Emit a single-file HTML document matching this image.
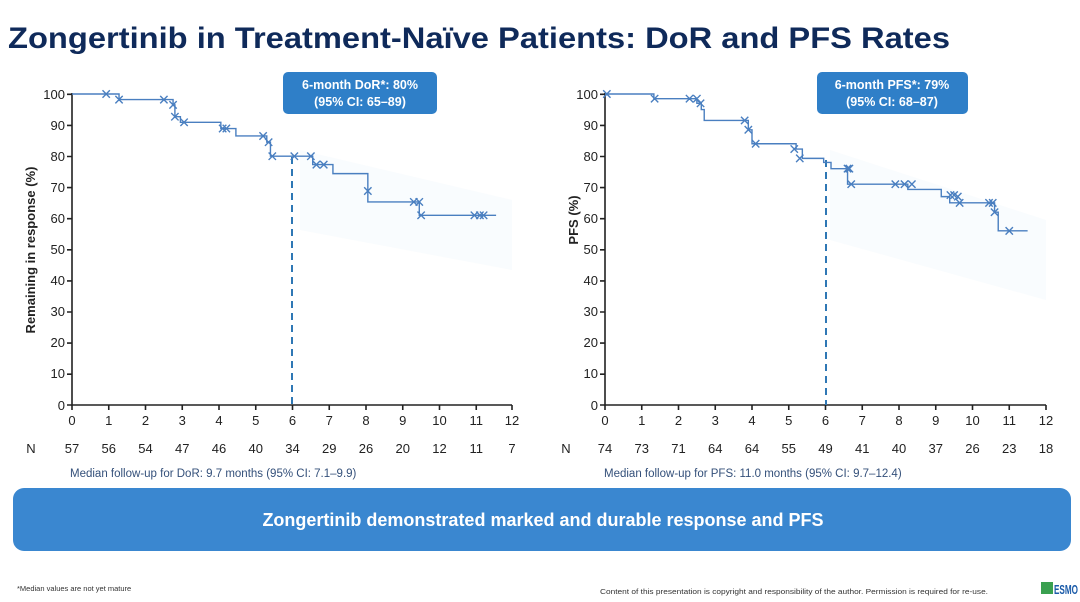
<!DOCTYPE html>
<html><head><meta charset="utf-8"><style>html,body{margin:0;padding:0;background:#fff}svg{display:block}</style></head><body>
<svg width="1080" height="602" viewBox="0 0 1080 602" xmlns="http://www.w3.org/2000/svg" font-family="Liberation Sans, Arial, sans-serif">
<rect width="1080" height="602" fill="#fff"/>
<text x="8" y="48" font-size="30" font-weight="bold" fill="#0f2a5a" textLength="942" lengthAdjust="spacingAndGlyphs">Zongertinib in Treatment-Naïve Patients: DoR and PFS Rates</text>

<!-- faint CI shading -->
<path d="M300 150 L512 200 L512 270 L300 230 Z" fill="#f3f9fd" opacity="0.5"/>
<path d="M830 150 L1046 220 L1046 300 L830 240 Z" fill="#f3f9fd" opacity="0.5"/>

<!-- LEFT CHART -->
<g stroke="#222" stroke-width="1.6" fill="none">
<path d="M72 93 V405 H512"/>
<path d="M67 94.3H72M67 125.4H72M67 156.5H72M67 187.6H72M67 218.7H72M67 249.8H72M67 280.9H72M67 312H72M67 343.1H72M67 374.2H72M67 405H72"/>
<path d="M72 405v5M108.75 405v5M145.5 405v5M182.25 405v5M219 405v5M255.75 405v5M292.5 405v5M329.25 405v5M366 405v5M402.75 405v5M439.5 405v5M476.25 405v5M512 405v5"/>
</g>
<g font-size="13" fill="#222" text-anchor="end">
<text x="65" y="99">100</text><text x="65" y="130">90</text><text x="65" y="161">80</text><text x="65" y="192">70</text><text x="65" y="223">60</text><text x="65" y="254">50</text><text x="65" y="285">40</text><text x="65" y="316">30</text><text x="65" y="347">20</text><text x="65" y="378">10</text><text x="65" y="410">0</text>
</g>
<g font-size="13" fill="#222" text-anchor="middle">
<text x="72" y="425">0</text><text x="108.75" y="425">1</text><text x="145.5" y="425">2</text><text x="182.25" y="425">3</text><text x="219" y="425">4</text><text x="255.75" y="425">5</text><text x="292.5" y="425">6</text><text x="329.25" y="425">7</text><text x="366" y="425">8</text><text x="402.75" y="425">9</text><text x="439.5" y="425">10</text><text x="476.25" y="425">11</text><text x="512" y="425">12</text>
<text x="31" y="453">N</text>
<text x="72" y="453">57</text><text x="108.75" y="453">56</text><text x="145.5" y="453">54</text><text x="182.25" y="453">47</text><text x="219" y="453">46</text><text x="255.75" y="453">40</text><text x="292.5" y="453">34</text><text x="329.25" y="453">29</text><text x="366" y="453">26</text><text x="402.75" y="453">20</text><text x="439.5" y="453">12</text><text x="476.25" y="453">11</text><text x="512" y="453">7</text>
</g>
<text transform="translate(35 250) rotate(-90)" font-size="13" font-weight="bold" fill="#222" text-anchor="middle">Remaining in response (%)</text>
<text x="70" y="477" font-size="11.5" fill="#34507a">Median follow-up for DoR: 9.7 months (95% CI: 7.1–9.9)</text>
<line x1="292" y1="157" x2="292" y2="405" stroke="#2f78b5" stroke-width="2" stroke-dasharray="7,5"/>
<g transform="translate(72 405) scale(36.75 -3.11)" fill="none" stroke="#4a7fc0" stroke-width="1.4">
<path vector-effect="non-scaling-stroke" d="M0 100 H1.28 V98.2 H2.75 V96.5 H2.8 V92.7 H2.95 V90.9 H4.05 V88.9 H4.46 V86.5 H5.3 V84.5 H5.4 V80 H6.55 V77.3 H7.1 V74.4 H8.05 V65.3 H9.45 V61 H11.54"/>
<path vector-effect="non-scaling-stroke" d="M0.93 100m-.1-1.2l.2 2.4m0-2.4l-.2 2.4 M1.28 98.2m-.1-1.2l.2 2.4m0-2.4l-.2 2.4 M2.5 98.2m-.1-1.2l.2 2.4m0-2.4l-.2 2.4 M2.75 96.5m-.1-1.2l.2 2.4m0-2.4l-.2 2.4 M2.8 92.7m-.1-1.2l.2 2.4m0-2.4l-.2 2.4 M3.05 90.9m-.1-1.2l.2 2.4m0-2.4l-.2 2.4 M4.1 88.9m-.1-1.2l.2 2.4m0-2.4l-.2 2.4 M4.2 88.9m-.1-1.2l.2 2.4m0-2.4l-.2 2.4 M5.2 86.5m-.1-1.2l.2 2.4m0-2.4l-.2 2.4 M5.35 84.5m-.1-1.2l.2 2.4m0-2.4l-.2 2.4 M5.45 80m-.1-1.2l.2 2.4m0-2.4l-.2 2.4 M6.05 80m-.1-1.2l.2 2.4m0-2.4l-.2 2.4 M6.5 80m-.1-1.2l.2 2.4m0-2.4l-.2 2.4 M6.65 77.3m-.1-1.2l.2 2.4m0-2.4l-.2 2.4 M6.85 77.3m-.1-1.2l.2 2.4m0-2.4l-.2 2.4 M8.05 68.8m-.1-1.2l.2 2.4m0-2.4l-.2 2.4 M9.3 65.3m-.1-1.2l.2 2.4m0-2.4l-.2 2.4 M9.45 65.3m-.1-1.2l.2 2.4m0-2.4l-.2 2.4 M9.5 61m-.1-1.2l.2 2.4m0-2.4l-.2 2.4 M10.95 61m-.1-1.2l.2 2.4m0-2.4l-.2 2.4 M11.1 61m-.1-1.2l.2 2.4m0-2.4l-.2 2.4 M11.2 61m-.1-1.2l.2 2.4m0-2.4l-.2 2.4"/>
</g>
<rect x="283" y="72" width="154" height="42" rx="5" fill="#2f7fc8"/>
<text x="360" y="89" font-size="12.5" font-weight="bold" fill="#fff" text-anchor="middle">6-month DoR*: 80%</text>
<text x="360" y="106" font-size="12.5" font-weight="bold" fill="#fff" text-anchor="middle">(95% CI: 65–89)</text>

<!-- RIGHT CHART -->
<g stroke="#222" stroke-width="1.6" fill="none">
<path d="M605 93 V405 H1046"/>
<path d="M600 94.3H605M600 125.4H605M600 156.5H605M600 187.6H605M600 218.7H605M600 249.8H605M600 280.9H605M600 312H605M600 343.1H605M600 374.2H605M600 405H605"/>
<path d="M605 405v5M641.75 405v5M678.5 405v5M715.25 405v5M752 405v5M788.75 405v5M825.5 405v5M862.25 405v5M899 405v5M935.75 405v5M972.5 405v5M1009.25 405v5M1046 405v5"/>
</g>
<g font-size="13" fill="#222" text-anchor="end">
<text x="598" y="99">100</text><text x="598" y="130">90</text><text x="598" y="161">80</text><text x="598" y="192">70</text><text x="598" y="223">60</text><text x="598" y="254">50</text><text x="598" y="285">40</text><text x="598" y="316">30</text><text x="598" y="347">20</text><text x="598" y="378">10</text><text x="598" y="410">0</text>
</g>
<g font-size="13" fill="#222" text-anchor="middle">
<text x="605" y="425">0</text><text x="641.75" y="425">1</text><text x="678.5" y="425">2</text><text x="715.25" y="425">3</text><text x="752" y="425">4</text><text x="788.75" y="425">5</text><text x="825.5" y="425">6</text><text x="862.25" y="425">7</text><text x="899" y="425">8</text><text x="935.75" y="425">9</text><text x="972.5" y="425">10</text><text x="1009.25" y="425">11</text><text x="1046" y="425">12</text>
<text x="566" y="453">N</text>
<text x="605" y="453">74</text><text x="641.75" y="453">73</text><text x="678.5" y="453">71</text><text x="715.25" y="453">64</text><text x="752" y="453">64</text><text x="788.75" y="453">55</text><text x="825.5" y="453">49</text><text x="862.25" y="453">41</text><text x="899" y="453">40</text><text x="935.75" y="453">37</text><text x="972.5" y="453">26</text><text x="1009.25" y="453">23</text><text x="1046" y="453">18</text>
</g>
<text transform="translate(578 220) rotate(-90)" font-size="13" font-weight="bold" fill="#222" text-anchor="middle">PFS (%)</text>
<text x="604" y="477" font-size="11.5" fill="#34507a">Median follow-up for PFS: 11.0 months (95% CI: 9.7–12.4)</text>
<line x1="826" y1="160" x2="826" y2="405" stroke="#2f78b5" stroke-width="2" stroke-dasharray="7,5"/>
<g transform="translate(605 405) scale(36.75 -3.11)" fill="none" stroke="#4a7fc0" stroke-width="1.4">
<path vector-effect="non-scaling-stroke" d="M0 100 H1.33 V98.5 H2.5 V97 H2.62 V95 H2.7 V91.5 H3.9 V88.5 H4.0 V84 H5.2 V82.3 H5.37 V79.3 H5.95 V78 H6.15 V76 H6.6 V71 H8.24 V69.3 H9.15 V67 H9.38 V65 H10.6 V62 H10.7 V56 H11.5"/>
<path vector-effect="non-scaling-stroke" d="M0.05 100m-.1-1.2l.2 2.4m0-2.4l-.2 2.4 M1.35 98.5m-.1-1.2l.2 2.4m0-2.4l-.2 2.4 M2.3 98.5m-.1-1.2l.2 2.4m0-2.4l-.2 2.4 M2.5 98.5m-.1-1.2l.2 2.4m0-2.4l-.2 2.4 M2.6 97m-.1-1.2l.2 2.4m0-2.4l-.2 2.4 M3.8 91.5m-.1-1.2l.2 2.4m0-2.4l-.2 2.4 M3.9 88.5m-.1-1.2l.2 2.4m0-2.4l-.2 2.4 M4.1 84m-.1-1.2l.2 2.4m0-2.4l-.2 2.4 M5.15 82.3m-.1-1.2l.2 2.4m0-2.4l-.2 2.4 M5.3 79.3m-.1-1.2l.2 2.4m0-2.4l-.2 2.4 M6.6 76m-.1-1.2l.2 2.4m0-2.4l-.2 2.4 M6.65 76m-.1-1.2l.2 2.4m0-2.4l-.2 2.4 M6.7 71m-.1-1.2l.2 2.4m0-2.4l-.2 2.4 M7.9 71m-.1-1.2l.2 2.4m0-2.4l-.2 2.4 M8.15 71m-.1-1.2l.2 2.4m0-2.4l-.2 2.4 M8.35 71m-.1-1.2l.2 2.4m0-2.4l-.2 2.4 M9.4 67.5m-.1-1.2l.2 2.4m0-2.4l-.2 2.4 M9.5 67.5m-.1-1.2l.2 2.4m0-2.4l-.2 2.4 M9.6 67m-.1-1.2l.2 2.4m0-2.4l-.2 2.4 M9.65 65m-.1-1.2l.2 2.4m0-2.4l-.2 2.4 M10.45 65m-.1-1.2l.2 2.4m0-2.4l-.2 2.4 M10.55 65m-.1-1.2l.2 2.4m0-2.4l-.2 2.4 M10.6 62m-.1-1.2l.2 2.4m0-2.4l-.2 2.4 M11.0 56m-.1-1.2l.2 2.4m0-2.4l-.2 2.4"/>
</g>
<rect x="817" y="72" width="151" height="42" rx="5" fill="#2f7fc8"/>
<text x="892" y="89" font-size="12.5" font-weight="bold" fill="#fff" text-anchor="middle">6-month PFS*: 79%</text>
<text x="892" y="106" font-size="12.5" font-weight="bold" fill="#fff" text-anchor="middle">(95% CI: 68–87)</text>

<!-- banner -->
<rect x="13" y="488" width="1058" height="63" rx="11" fill="#3a87d0"/>
<text x="543" y="526" font-size="18" font-weight="bold" fill="#fff" text-anchor="middle">Zongertinib demonstrated marked and durable response and PFS</text>

<text x="17" y="591" font-size="7.5" fill="#333">*Median values are not yet mature</text>
<text x="600" y="594" font-size="7.5" fill="#333" textLength="388" lengthAdjust="spacingAndGlyphs">Content of this presentation is copyright and responsibility of the author. Permission is required for re-use.</text>
<rect x="1041" y="582" width="12" height="12" fill="#3aa050"/>
<text x="1054" y="594" font-size="13" font-weight="bold" fill="#1a5aa8" textLength="24" lengthAdjust="spacingAndGlyphs">ESMO</text>
</svg>
</body></html>
